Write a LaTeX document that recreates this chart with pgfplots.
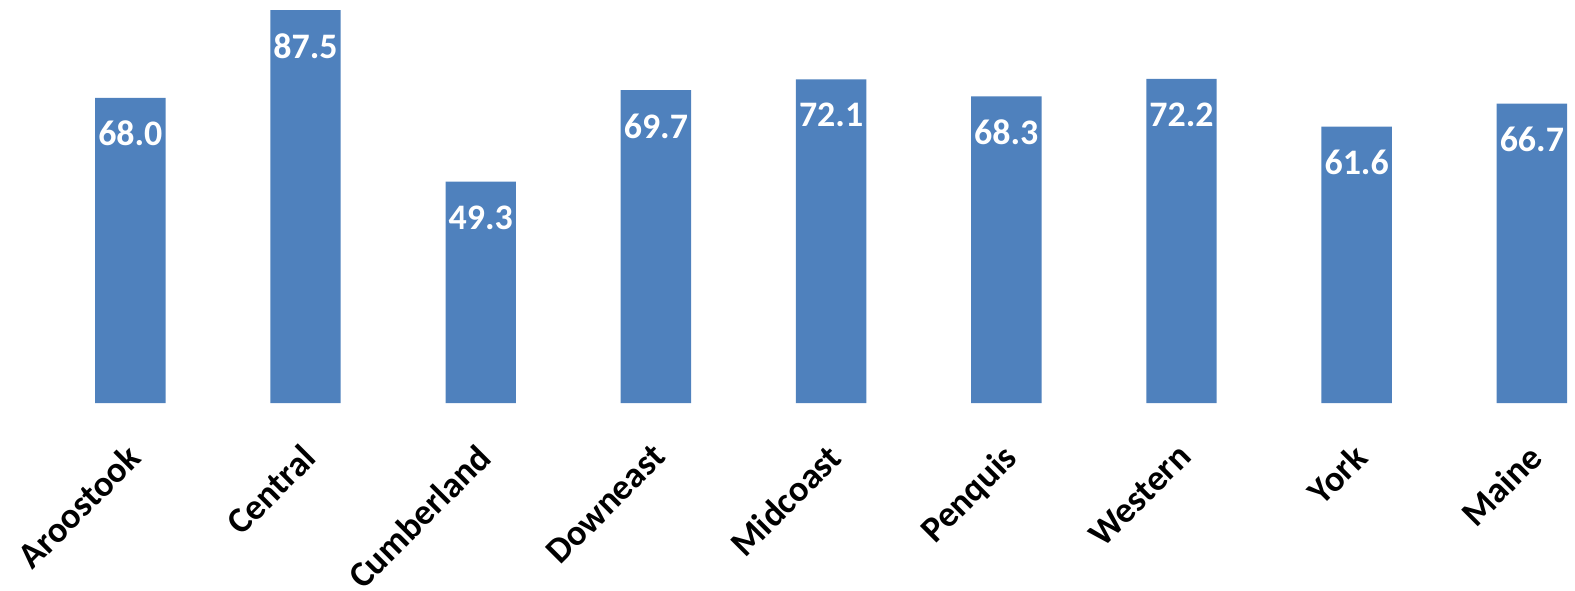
\documentclass[border=0pt]{standalone}
\usepackage{pgfplots}
\pgfplotsset{compat=1.18}
\usepackage{fontspec}
\setmainfont{Carlito}
\definecolor{barblue}{HTML}{4F81BD}
\begin{document}
\begin{tikzpicture}
\begin{axis}[
  scale only axis,
  width=472.5pt, height=121.2pt,
  ybar, bar width=0.402,
  xmin=-0.744, xmax=8.22,
  ymin=0, ymax=89.7,
  axis line style={draw=none},
  major tick length=0pt,
  ytick=\empty,
  xtick={0,1,2,3,4,5,6,7,8},
  xticklabels={Aroostook,Central,Cumberland,Downeast,Midcoast,Penquis,Western,York,Maine},
  xticklabel style={font=\fontsize{10.9}{12}\selectfont\bfseries, inner sep=0pt, xshift=-1.6pt, yshift=-11.5pt, rotate=45, anchor=north east},
  nodes near coords={\pgfmathprintnumber[fixed,fixed zerofill,precision=1,assume math mode=true]{\pgfplotspointmeta}},
  every node near coord/.append style={font=\fontsize{10.8}{12}\selectfont\bfseries, text=white, anchor=center, yshift=-10.8pt},
  clip=false,
]
\addplot[fill=barblue, draw=none] coordinates {(0,68.0) (1,87.5) (2,49.3) (3,69.7) (4,72.1) (5,68.3) (6,72.2) (7,61.6) (8,66.7)};
\end{axis}
\end{tikzpicture}
\end{document}
